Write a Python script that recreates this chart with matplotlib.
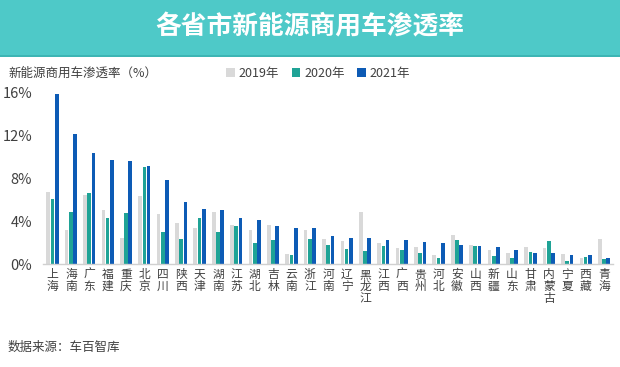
import numpy as np
import matplotlib.pyplot as plt
from matplotlib.patches import Rectangle

plt.rcParams['font.family'] = ['Noto Sans CJK SC', 'DejaVu Sans']

provinces = ['上海', '海南', '广东', '福建', '重庆', '北京', '四川', '陕西', '天津', '湖南',
             '江苏', '湖北', '吉林', '云南', '浙江', '河南', '辽宁', '黑龙江', '江西', '广西',
             '贵州', '河北', '安徽', '山西', '新疆', '山东', '甘肃', '内蒙古', '宁夏', '西藏', '青海']
v2019 = [6.7, 3.2, 6.4, 5.0, 2.4, 6.3, 4.7, 3.8, 3.4, 4.85,
         3.6, 3.2, 3.6, 0.95, 3.2, 2.3, 2.15, 4.8, 2.0, 1.5,
         1.6, 0.85, 2.7, 1.8, 1.3, 1.0, 1.6, 1.45, 0.9, 0.6, 2.3]
v2020 = [6.1, 4.8, 6.6, 4.3, 4.75, 9.05, 3.0, 2.3, 4.25, 2.95,
         3.5, 2.0, 2.2, 0.85, 2.3, 1.75, 1.4, 1.2, 1.65, 1.35,
         1.0, 0.55, 2.2, 1.7, 0.7, 0.6, 1.15, 2.1, 0.3, 0.65, 0.45]
v2021 = [15.8, 12.1, 10.35, 9.65, 9.6, 9.15, 7.8, 5.75, 5.15, 5.0,
         4.25, 4.1, 3.55, 3.4, 3.4, 2.6, 2.45, 2.4, 2.2, 2.2,
         2.05, 1.95, 1.8, 1.7, 1.55, 1.3, 1.0, 1.0, 0.8, 0.8, 0.55]
years = ['2019年', '2020年', '2021年']
colors = ['#D9D9D9', '#1FA396', '#0D5BB5']
yticks = [0, 4, 8, 12, 16]

fig = plt.figure(figsize=(6.2, 3.67), dpi=100)

# header band
fig.patches.append(Rectangle((0, 1 - 55 / 367), 1, 55 / 367, transform=fig.transFigure,
                             facecolor='#4EC9C8', edgecolor='none', zorder=0))
fig.patches.append(Rectangle((0, 1 - 57 / 367), 1, 2 / 367, transform=fig.transFigure,
                             facecolor='#3DB5B4', edgecolor='none', zorder=0))
fig.text(0.5, 1 - 27 / 367, '各省市新能源商用车渗透率', color='white', fontsize=18.5,
         fontweight='bold', ha='center', va='center')

ax = fig.add_axes([43.3 / 620, 1 - 264 / 367, (613.2 - 43.3) / 620, (264 - 92.3) / 367])
x = np.arange(len(provinces))
off = 0.23
w = 0.2
for i, (vals, c) in enumerate(zip([v2019, v2020, v2021], colors)):
    ax.bar(x + (i - 1) * off, vals, width=w, color=c, label=years[i], zorder=2)

ax.set_xlim(-0.5, len(provinces) - 0.5)
ax.set_ylim(0, 16)
ax.set_yticks(yticks)
ax.set_yticklabels([f'{t}%' for t in yticks], fontsize=10.5, color='#404040')
ax.set_xticks(x)
ax.set_xticklabels(['\n'.join(p) for p in provinces], fontsize=8.5, color='#404040',
                   linespacing=0.9, va='top')
ax.tick_params(axis='both', length=0)
ax.tick_params(axis='x', pad=3)
ax.tick_params(axis='y', pad=8)
for s in ['top', 'right', 'left']:
    ax.spines[s].set_visible(False)
ax.spines['bottom'].set_color('#D0D0D0')
ax.spines['bottom'].set_linewidth(1)

fig.text(8 / 620, 1 - 73 / 367, '新能源商用车渗透率（%）', fontsize=9, color='#404040',
         ha='left', va='center')
leg = fig.legend(loc='center left', bbox_to_anchor=(215 / 620, 1 - 73 / 367), ncol=3,
                 frameon=False, fontsize=9, handlelength=0.7, handleheight=0.7,
                 handletextpad=0.3, columnspacing=1.0, labelcolor='#404040')
fig.text(8 / 620, 1 - 347 / 367, '数据来源：车百智库', fontsize=9, color='#404040',
         ha='left', va='center')

fig.savefig('out.png', dpi=100)
